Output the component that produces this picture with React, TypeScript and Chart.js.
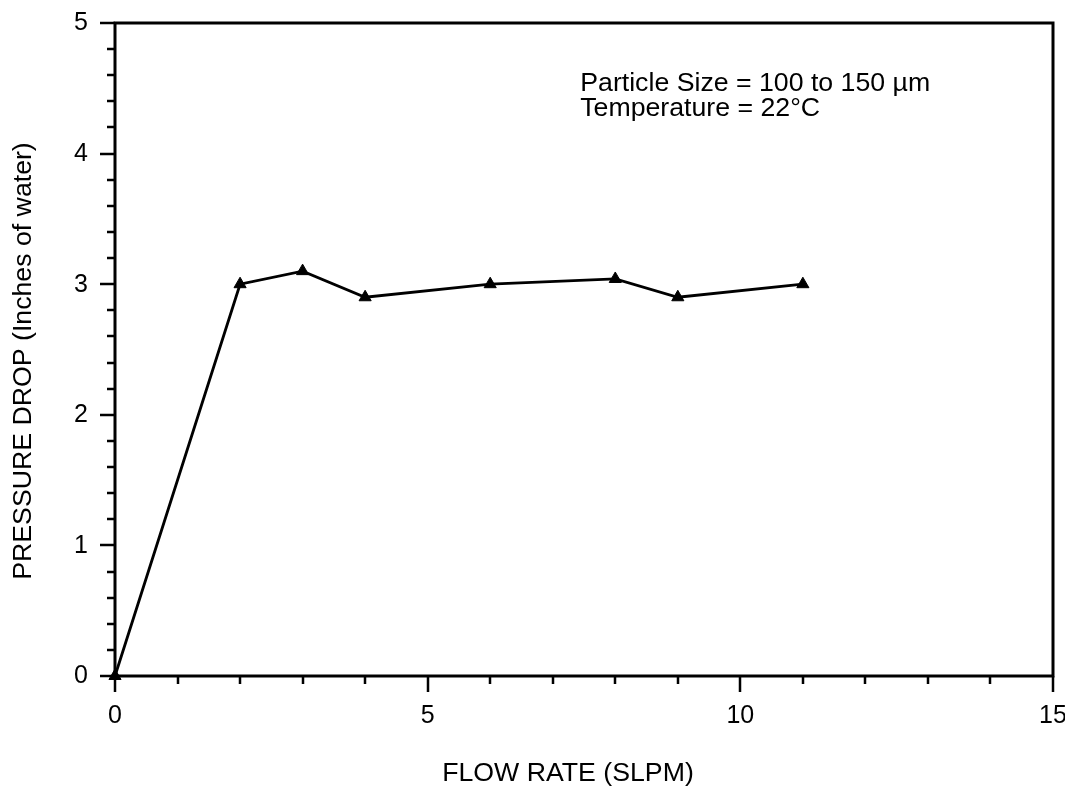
import React, { useEffect, useRef } from "react";
import { Chart, registerables } from "chart.js";

Chart.register(...registerables);

const flowRate = [0, 2, 3, 4, 6, 8, 9, 11];
const pressureDrop = [0, 3.0, 3.1, 2.9, 3.0, 3.04, 2.9, 3.0];
const xMajorTicks = [0, 5, 10, 15];
const yMajorTicks = [0, 1, 2, 3, 4, 5];
const xTitle = "FLOW RATE (SLPM)";
const yTitle = "PRESSURE DROP (Inches of water)";
const noteLines = ["Particle Size = 100 to 150 µm", "Temperature = 22°C"];

const FONT = "'Liberation Sans', Arial, Helvetica, sans-serif";
const TEXT_SIZE = 26.7;
const TICK_SIZE = 25;

// Frame, outward tick marks (long at labelled values, short at minor steps),
// tick labels, axis titles and the conditions note.
const axesDecor = {
  id: "axesDecor",
  afterDraw(chart: any) {
    const { ctx, chartArea, scales } = chart;
    const x = scales.x;
    const y = scales.y;
    ctx.save();
    ctx.strokeStyle = "#000";
    ctx.lineWidth = 2.5;
    ctx.beginPath();
    for (let v = 0; v <= 15; v += 1) {
      const px = Math.round(x.getPixelForValue(v));
      const len = v % 5 === 0 ? 16 : 8;
      ctx.moveTo(px, chartArea.bottom);
      ctx.lineTo(px, chartArea.bottom + len);
    }
    for (let i = 0; i <= 25; i++) {
      const py = Math.round(y.getPixelForValue(i * 0.2));
      const len = i % 5 === 0 ? 15 : 8;
      ctx.moveTo(chartArea.left, py);
      ctx.lineTo(chartArea.left - len, py);
    }
    ctx.stroke();
    ctx.lineWidth = 3;
    ctx.strokeRect(chartArea.left, chartArea.top, chartArea.right - chartArea.left, chartArea.bottom - chartArea.top);

    ctx.fillStyle = "#000";
    ctx.textBaseline = "alphabetic";

    // tick labels
    ctx.font = `${TICK_SIZE}px ${FONT}`;
    const cap = TICK_SIZE * 0.716;
    ctx.textAlign = "center";
    xMajorTicks.forEach((v) => ctx.fillText(String(v), x.getPixelForValue(v), chartArea.bottom + 29 + cap));
    ctx.textAlign = "right";
    yMajorTicks.forEach((v) => ctx.fillText(String(v), chartArea.left - 27, y.getPixelForValue(v) - 1.5 + cap / 2));

    // axis titles
    ctx.font = `${TEXT_SIZE}px ${FONT}`;
    ctx.textAlign = "center";
    ctx.fillText(xTitle, 568, 781);
    ctx.save();
    ctx.translate(31, 361);
    ctx.rotate(-Math.PI / 2);
    ctx.fillText(yTitle, 0, 0);
    ctx.restore();

    // conditions note
    ctx.textAlign = "left";
    const left = x.getPixelForValue(7.44);
    noteLines.forEach((line, i) => ctx.fillText(line, left, 91 + i * 25));
    ctx.restore();
  },
};

export default function App() {
  const canvasRef = useRef<HTMLCanvasElement>(null);

  useEffect(() => {
    if (!canvasRef.current) return;
    const chart = new Chart(canvasRef.current, {
      type: "line",
      data: {
        datasets: [
          {
            data: flowRate.map((f, i) => ({ x: f, y: pressureDrop[i] })),
            borderColor: "#000",
            backgroundColor: "#000",
            borderWidth: 2.8,
            pointStyle: "triangle",
            pointRadius: 7,
            pointHoverRadius: 7,
            pointBorderWidth: 1,
            tension: 0,
            clip: false,
          },
        ],
      },
      options: {
        animation: false,
        responsive: false,
        events: [],
        layout: { padding: { top: 23, right: 12, left: 0, bottom: 0 } },
        plugins: { legend: { display: false }, tooltip: { enabled: false } },
        scales: {
          x: {
            type: "linear",
            min: 0,
            max: 15,
            border: { display: false },
            grid: { display: false, drawTicks: false },
            ticks: { display: false },
            afterFit: (s: any) => {
              s.height = 110;
              s.paddingLeft = 0;
              s.paddingRight = 0;
            },
          },
          y: {
            type: "linear",
            min: 0,
            max: 5,
            border: { display: false },
            grid: { display: false, drawTicks: false },
            ticks: { display: false },
            afterFit: (s: any) => {
              s.width = 115;
              s.paddingTop = 0;
              s.paddingBottom = 0;
            },
          },
        },
      },
      plugins: [axesDecor],
    } as any);
    return () => chart.destroy();
  }, []);

  return (
    <div style={{ position: "fixed", left: 0, top: 0, width: 1065, height: 786, background: "#fff" }}>
      <canvas ref={canvasRef} width={1065} height={786} />
    </div>
  );
}
